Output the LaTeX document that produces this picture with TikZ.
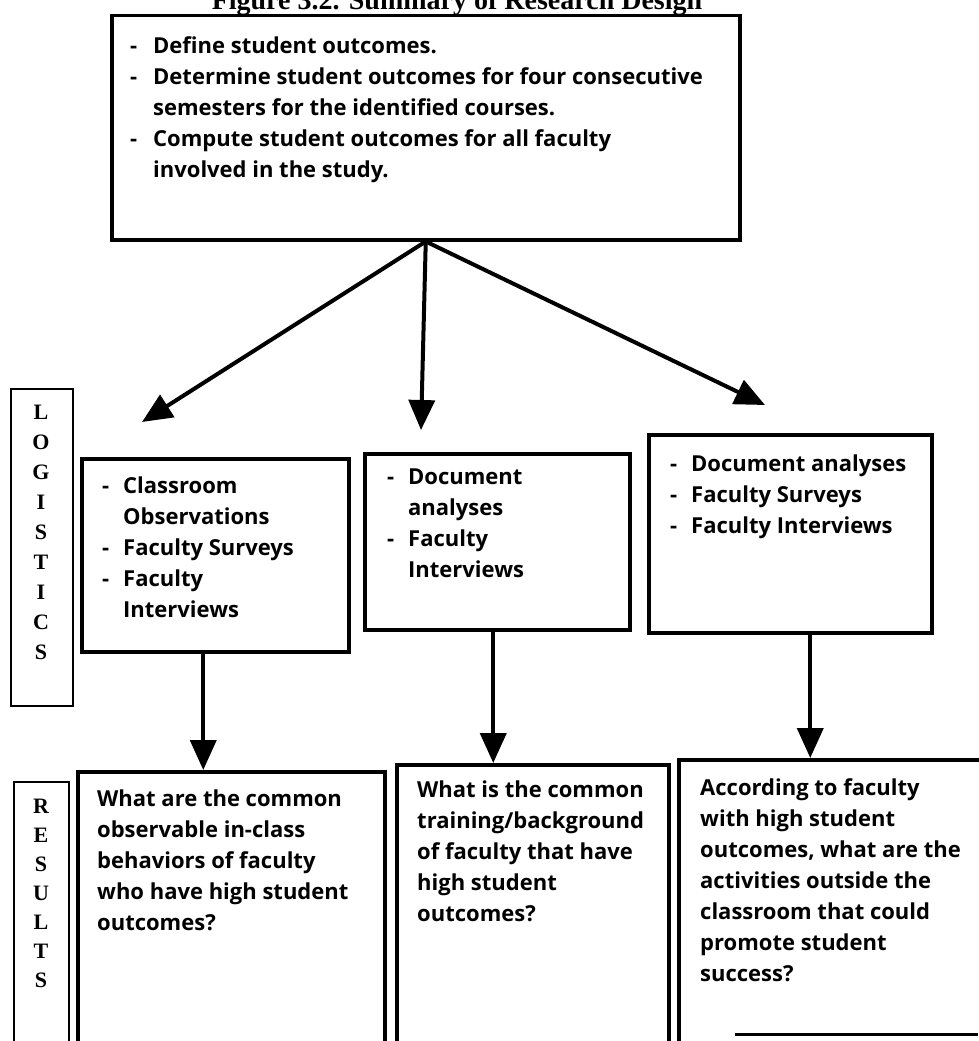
\documentclass[tikz,border=0pt]{standalone}
\usepackage{fontspec}
\setmainfont{Open Sans}
\newfontfamily\serifbold{Liberation Serif}
\usetikzlibrary{arrows.meta}
\newcommand{\dashitem}{\makebox[21pt][l]{-}}
\newcommand{\runon}{\hspace*{21pt}}
\tikzset{
  frame/.style={draw, line width=3.5pt, inner sep=0pt, anchor=north west},
  tag/.style={draw, line width=2pt, inner sep=0pt, anchor=north west},
  txt/.style={anchor=north west, align=left, inner sep=0pt, font=\fontsize{22}{31}\selectfont\bfseries},
  letter/.style={inner sep=0pt, font=\serifbold\fontsize{22}{22}\selectfont\bfseries},
  flow/.style={line width=4pt, -{Triangle[length=30pt,width=26pt]}}
}
\begin{document}
\begin{tikzpicture}[x=1pt,y=-1pt,line join=miter]
\useasboundingbox (0,0) rectangle (978,1041);
% title, cut off by the page edge
\node[font=\serifbold\fontsize{28}{28}\selectfont\bfseries, anchor=base] (title) at (457,10) {Figure 3.2. Summary of Research Design};
% top box
\node[frame, minimum width=628pt, minimum height=224pt] (plan) at (110,14) {};
\node[txt] (plantxt) at (130,36) {\makebox[23pt][l]{-}Define student outcomes.\\
\makebox[23pt][l]{-}Determine student outcomes for four consecutive\\
\hspace*{23pt}semesters for the identified courses.\\
\makebox[23pt][l]{-}Compute student outcomes for all faculty\\
\hspace*{23pt}involved in the study.};
% logistics row
\node[tag, minimum width=62pt, minimum height=317pt] (logi) at (10,388) {};
\foreach \l [count=\i] in {L,O,G,I,S,T,I,C,S}
  \node[letter] (lg\i) at (41,{382+30*\i}) {\l};
\node[frame, minimum width=267pt, minimum height=193pt] (obs) at (80,457) {};
\node[frame, minimum width=265pt, minimum height=176pt] (docs) at (363,452) {};
\node[frame, minimum width=283pt, minimum height=198pt] (surv) at (647,433) {};
\node[txt] (obstxt) at (102,477) {\dashitem Classroom\\ \runon Observations\\ \dashitem Faculty Surveys\\ \dashitem Faculty\\ \runon Interviews};
\node[txt] (docstxt) at (387,469) {\dashitem Document\\ \runon analyses\\ \dashitem Faculty\\ \runon Interviews};
\node[txt] (survtxt) at (670,455) {\dashitem Document analyses\\ \dashitem Faculty Surveys\\ \dashitem Faculty Interviews};
% results row
\node[tag, minimum width=55pt, minimum height=300pt] (resu) at (13,781) {};
\foreach \l [count=\i] in {R,E,S,U,L,T,S}
  \node[letter] (rs\i) at (41,{777+29*\i}) {\l};
\node[frame, minimum width=307pt, minimum height=340pt] (q1) at (76,770) {};
\node[frame, minimum width=272pt, minimum height=340pt] (q2) at (395,763) {};
\node[frame, minimum width=340pt, minimum height=340pt] (q3) at (677,758) {};
\node[txt] (q1txt) at (97,790) {What are the common\\ observable in-class\\ behaviors of faculty\\ who have high student\\ outcomes?};
\node[txt] (q2txt) at (417,781) {What is the common\\ training/background\\ of faculty that have\\ high student\\ outcomes?};
\node[txt] (q3txt) at (700,778) {According to faculty\\ with high student\\ outcomes, what are the\\ activities outside the\\ classroom that could\\ promote student\\ success?};
% arrows
\coordinate (tipobs) at (142,422);
\coordinate (tipdocs) at (421,430);
\coordinate (tipsurv) at (765,405);
\draw[flow] (plan.south) -- (tipobs);
\draw[flow] (plan.south) -- (tipdocs);
\draw[flow] (plan.south) -- (tipsurv);
\draw[flow] ([xshift=-12pt]obs.south) -- ([xshift=-12pt]obs.south |- q1.north);
\draw[flow] ([xshift=-4pt]docs.south) -- ([xshift=-4pt]docs.south |- q2.north);
\draw[flow] ([xshift=20pt]surv.south) -- ([xshift=20pt]surv.south |- q3.north);
\draw[line width=3pt] (735,1034) -- (978,1034);
\end{tikzpicture}
\end{document}
